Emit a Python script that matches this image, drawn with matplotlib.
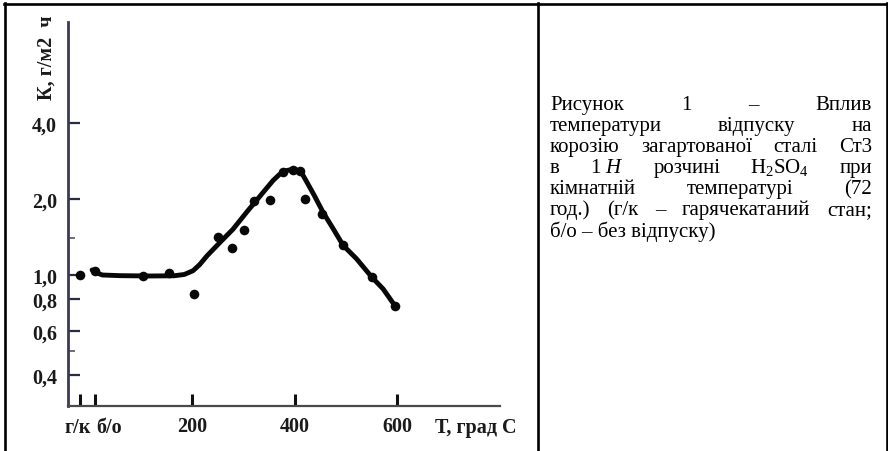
import numpy as np
import matplotlib.pyplot as plt
from matplotlib.lines import Line2D
from matplotlib.ticker import NullFormatter

plt.rcParams['font.family'] = ['Liberation Serif', 'DejaVu Serif']
plt.rcParams['mathtext.fontset'] = 'custom'
plt.rcParams['mathtext.rm'] = 'Liberation Serif'
plt.rcParams['mathtext.it'] = 'Liberation Serif:italic'

W, H = 888, 452

# categories on the temperature axis (hot rolled, no tempering)
cat_pos = [-18, 10]
cat_labels = ['г/к', 'б/о']
x_ticks = [200, 400, 600]
y_ticks = [0.4, 0.6, 0.8, 1.0, 2.0, 4.0]
y_labels = ['0,4', '0,6', '0,8', '1,0', '2,0', '4,0']
y_minor = [0.5, 1.4]

# measured points
pt_T = [-18, 10, 105, 155, 203, 250, 279, 301, 321, 352, 378, 398, 411, 420, 453, 495, 551, 596]
pt_K = [1.00, 1.04, 0.99, 1.02, 0.84, 1.42, 1.28, 1.51, 1.96, 1.98, 2.56, 2.60, 2.58, 2.00, 1.75, 1.31, 0.98, 0.75]

# hand drawn curve through the points
curve_T = [5, 14, 25, 60, 118, 165, 185, 202, 215, 229, 255, 280, 307, 333, 358, 370, 382, 393,
           405, 414, 423, 438, 456, 476, 495, 521, 551, 573, 596]
curve_K = [1.047, 1.02, 1.0, 0.994, 0.991, 0.993, 1.005, 1.04, 1.10, 1.19, 1.35, 1.52, 1.78, 2.06,
           2.37, 2.50, 2.59, 2.62, 2.61, 2.54, 2.36, 2.08, 1.77, 1.52, 1.31, 1.16, 0.98, 0.88, 0.755]

caption = [
    ['Рисунок', '1', '–', 'Вплив'],
    ['температури', 'відпуску', 'на'],
    ['корозію', 'загартованої', 'сталі', 'Ст3'],
    ['в', '1 $H$', 'розчині', 'H$_2$SO$_4$', 'при'],
    ['кімнатній', 'температурі', '(72'],
    ['год.)', '(г/к', '–', 'гарячекатаний', 'стан;'],
    ['б/о – без відпуску)'],
]

fig = plt.figure(figsize=(W / 100, H / 100), dpi=100)
ax = fig.add_axes([68 / W, 45 / H, 432 / W, 384 / H])

ax.plot(curve_T, curve_K, color='#080808', lw=3.5, solid_capstyle='round', solid_joinstyle='round')
ax.scatter(pt_T, pt_K, s=48, color='#080808', zorder=3, linewidths=0)

ax.set_yscale('log')
ax.set_xlim(-42, 801)
ax.set_ylim(0.302, 10.1)

ax.set_yticks(y_ticks)
ax.set_yticklabels(y_labels)
ax.set_yticks(y_minor, minor=True)
ax.yaxis.set_minor_formatter(NullFormatter())
ax.set_xticks(cat_pos + x_ticks)
ax.set_xticklabels(['', ''] + [str(v) for v in x_ticks])

for s in ['top', 'right']:
    ax.spines[s].set_visible(False)
ax.spines['left'].set_color('#3a3a58')
ax.spines['left'].set_linewidth(2.0)
ax.spines['bottom'].set_color('#4a4a4a')
ax.spines['bottom'].set_linewidth(1.6)

ax.tick_params(axis='y', which='major', direction='in', length=8.5, width=1.6,
               color='#2a2a40', pad=26, labelsize=14.5)
ax.tick_params(axis='y', which='minor', direction='in', length=5, width=1.2, color='#55556a')
ax.tick_params(axis='x', direction='in', length=9, width=2.2, color='#101010',
               pad=7, labelsize=14.5)
for lbl in ax.get_yticklabels():
    lbl.set_ha('left')
    lbl.set_fontweight('bold')
    lbl.set_color('#1a1a1a')
for lbl in ax.get_xticklabels():
    lbl.set_fontweight('bold')
    lbl.set_color('#1a1a1a')

tr = ax.get_xaxis_transform()
ylab = (407 - 433) / 384
ax.text(-24, ylab, cat_labels[0], transform=tr, ha='center', va='baseline',
        fontsize=14.5, fontweight='bold', color='#1a1a1a')
ax.text(38, ylab, cat_labels[1], transform=tr, ha='center', va='baseline',
        fontsize=14.5, fontweight='bold', color='#1a1a1a')
ax.text(754, ylab, 'Т, град С', transform=tr, ha='center', va='baseline',
        fontsize=14.5, fontweight='bold', color='#1a1a1a')

fig.text(47 / W, 1 - 100 / H, 'К, г/м2  ч', rotation=90, ha='center', va='bottom',
         fontsize=14.5, fontweight='bold', color='#1a1a1a')

# table borders
def hline(y, x0, x1):
    fig.add_artist(Line2D([x0 / W, x1 / W], [1 - y / H, 1 - y / H], transform=fig.transFigure,
                          color='black', lw=1.9))

def vline(x, y0, y1):
    fig.add_artist(Line2D([x / W, x / W], [1 - y0 / H, 1 - y1 / H], transform=fig.transFigure,
                          color='black', lw=1.9))

hline(5.3, 3.8, 888)
vline(4.7, 4.4, 452)
vline(538, 4.4, 452)
vline(887.3, 4.4, 452)

# justified caption
fig.canvas.draw()
rend = fig.canvas.get_renderer()
left, right = 550, 872
base = 110
for i, words in enumerate(caption):
    y = 1 - (base + i * 21.1) / H
    texts = [fig.text(0, y, w, fontsize=15, va='baseline', ha='left', color='black') for w in words]
    widths = [t.get_window_extent(rend).width for t in texts]
    if len(words) > 1:
        gap = (right - left - sum(widths)) / (len(words) - 1)
    else:
        gap = 0
    x = left
    for t, w in zip(texts, widths):
        t.set_x(x / W)
        x += w + gap

fig.savefig('out.png', dpi=100)
